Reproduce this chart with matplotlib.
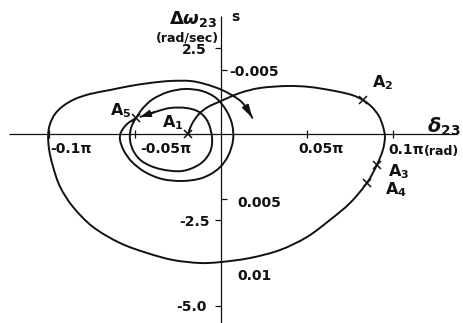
import numpy as np
import matplotlib
matplotlib.use("Agg")
import matplotlib.pyplot as plt
from matplotlib.path import Path
from matplotlib.patches import PathPatch

plt.rcParams["font.family"] = ["DejaVu Sans"]
plt.rcParams["mathtext.fontset"] = "dejavusans"

# Swing trajectory: rotor angle (in units of pi rad) vs speed deviation (rad/sec)
traj_delta = [-0.0192, -0.0169, -0.0128, -0.0076, 0.0000, 0.0110, 0.0227, 0.0384,
              0.0517, 0.0662, 0.0761, 0.0825, 0.0877, 0.0918, 0.0941, 0.0953,
              0.0941, 0.0906, 0.0848, 0.0750, 0.0633, 0.0500, 0.0343, 0.0168,
              0.0000, -0.0122, -0.0279, -0.0430, -0.0587, -0.0744, -0.0860, -0.0935,
              -0.0976, -0.0999, -0.1005, -0.0994, -0.0965, -0.0918, -0.0849, -0.0761,
              -0.0645, -0.0529, -0.0413, -0.0296, -0.0180, -0.0093, 0.0006, 0.0099,
              0.0145]
traj_omega = [0.000, 0.291, 0.581, 0.785, 0.959, 1.192, 1.337, 1.395,
              1.366, 1.250, 1.134, 0.988, 0.785, 0.523, 0.233, -0.087,
              -0.465, -0.901, -1.424, -2.006, -2.500, -2.994, -3.372, -3.605,
              -3.721, -3.750, -3.663, -3.459, -3.169, -2.703, -2.122, -1.541,
              -0.959, -0.465, -0.029, 0.291, 0.581, 0.814, 1.017, 1.163,
              1.279, 1.395, 1.483, 1.541, 1.541, 1.453, 1.279, 1.017,
              0.785]
traj_end = (0.0182, 0.470)

# Subsequent oscillation cycles ending at A5
cycle_delta = [-0.0494, -0.0546, -0.0581, -0.0587, -0.0564, -0.0517, -0.0442, -0.0343,
               -0.0227, -0.0110, -0.0017, 0.0041, 0.0070, 0.0064, 0.0029, -0.0029,
               -0.0110, -0.0209, -0.0308, -0.0395, -0.0453, -0.0494, -0.0523, -0.0529,
               -0.0506, -0.0453, -0.0355, -0.0227, -0.0122, -0.0064, -0.0052, -0.0076,
               -0.0128, -0.0203, -0.0296, -0.0384]
cycle_omega = [0.465, 0.291, 0.058, -0.174, -0.494, -0.814, -1.105, -1.308,
               -1.366, -1.279, -1.017, -0.640, -0.174, 0.291, 0.698, 1.047,
               1.250, 1.308, 1.221, 1.017, 0.756, 0.465, 0.174, -0.174,
               -0.523, -0.814, -1.017, -1.076, -0.872, -0.523, -0.116, 0.349,
               0.640, 0.756, 0.756, 0.640]
cycle_end = (-0.0468, 0.500)

# Marked states
a_labels = ["1", "2", "3", "4", "5"]
a_delta = [-0.0192, 0.0825, 0.0906, 0.0848, -0.0494]
a_omega = [0.000, 0.988, -0.901, -1.424, 0.465]

# Axis scales
delta_ticks = [-0.1, -0.05, 0.05, 0.1]
delta_tick_labels = ["-0.1\u03c0", "-0.05\u03c0", "0.05\u03c0", "0.1\u03c0"]
omega_ticks = [2.5, -2.5, -5.0]
omega_tick_labels = ["2.5", "-2.5", "-5.0"]
time_ticks = [1.86, -1.89]
time_labels = ["-0.005", "0.005", "0.01"]
time_label_omega = [1.80, -2.01, -4.13]


def smooth_path(xs, ys):
    pts = np.column_stack([xs, ys])
    ext = np.vstack([pts[0], pts, pts[-1]])
    verts = [pts[0]]
    codes = [Path.MOVETO]
    for i in range(len(pts) - 1):
        p0, p1, p2, p3 = ext[i], ext[i + 1], ext[i + 2], ext[i + 3]
        verts += [p1 + (p2 - p0) / 6.0, p2 - (p3 - p1) / 6.0, p2]
        codes += [Path.CURVE4] * 3
    return Path(verts, codes)


fig = plt.figure(figsize=(4.63, 3.23), dpi=100)
ax = fig.add_axes([0, 0, 1, 1])
ax.set_xlim(-0.12849, 0.14070)
ax.set_ylim(-5.494, 3.895)
ax.axis("off")

ink = "#111111"
axis_lw = 0.9
curve_lw = 1.4
txt = dict(color=ink, fontweight="semibold")

# Coordinate axes
ax.plot([-0.1232, 0.1371], [0, 0], color=ink, lw=axis_lw, solid_capstyle="butt")
ax.plot([0, 0], [-5.6, 3.42], color=ink, lw=axis_lw, solid_capstyle="butt")
ax.plot(delta_ticks, [0] * len(delta_ticks), ls="none", marker="|", ms=6,
        mew=axis_lw, color=ink)
ax.plot([0] * len(omega_ticks), omega_ticks, ls="none", marker=0, ms=4.5,
        mew=axis_lw, color=ink)
ax.plot([0] * len(time_ticks), time_ticks, ls="none", marker=1, ms=4.5,
        mew=axis_lw, color=ink)

# Trajectories
x_main = traj_delta + [traj_end[0]]
y_main = traj_omega + [traj_end[1]]
ax.add_patch(PathPatch(smooth_path(x_main, y_main), fill=False, ec=ink,
                       lw=curve_lw, capstyle="round", joinstyle="round"))
ax.annotate("", xy=traj_end, xytext=(traj_delta[-1], traj_omega[-1]),
            arrowprops=dict(arrowstyle="-|>,head_length=0.6,head_width=0.17",
                            color=ink, lw=curve_lw, shrinkA=0, shrinkB=0,
                            mutation_scale=12))

x_cyc = cycle_delta + [cycle_end[0]]
y_cyc = cycle_omega + [cycle_end[1]]
ax.add_patch(PathPatch(smooth_path(x_cyc, y_cyc), fill=False, ec=ink,
                       lw=curve_lw, capstyle="round", joinstyle="round"))
ax.annotate("", xy=cycle_end, xytext=(cycle_delta[-1], cycle_omega[-1]),
            arrowprops=dict(arrowstyle="-|>,head_length=0.5,head_width=0.18",
                            color=ink, lw=curve_lw, shrinkA=0, shrinkB=0,
                            mutation_scale=11))

# Marked points
ax.plot(a_delta, a_omega, ls="none", marker="x", ms=5.5, mew=1.1, color=ink)
a_text_pos = [(-0.0343, 0.32), (0.0877, 1.48), (0.0970, -1.10),
              (0.0953, -1.63), (-0.0645, 0.67)]
for lab, (tx, ty) in zip(a_labels, a_text_pos):
    ax.text(tx, ty, r"$\mathbf{A}_{\mathbf{%s}}$" % lab, fontsize=11.5,
            ha="left", va="center", color=ink)

# Tick labels along the angle axis
delta_label_x = [-0.0994, -0.0471, 0.0447]
for lab, tx in zip(delta_tick_labels[:3], delta_label_x):
    ax.text(tx, -0.44, lab, fontsize=10, ha="left", va="center", **txt)
ax.text(0.0976, -0.46, delta_tick_labels[3], fontsize=10, ha="left",
        va="center", **txt)
ax.text(0.1180, -0.50, "(rad)", fontsize=9, ha="left", va="center", **txt)

# Tick labels along the speed axis
omega_label_pos = [(-0.0081, 2.44), (-0.0064, -2.56), (-0.0081, -5.03)]
for lab, (tx, ty) in zip(omega_tick_labels, omega_label_pos):
    ax.text(tx, ty, lab, fontsize=10, ha="right", va="center", **txt)

# Time marks along the speed axis
time_label_x = [0.0046, 0.0093, 0.0093]
for lab, tx, ty in zip(time_labels, time_label_x, time_label_omega):
    ax.text(tx, ty, lab, fontsize=10, ha="left", va="center", **txt)
ax.text(0.0081, 3.40, "s", fontsize=10, ha="center", va="center", **txt)

# Axis titles
ax.text(-0.0163, 3.33, r"$\boldsymbol{\Delta\omega}_{\mathbf{23}}$",
        fontsize=13, ha="center", va="center", color=ink)
ax.text(-0.0195, 2.79, "(rad/sec)", fontsize=9, ha="center", va="center",
        **txt)
ax.text(0.1197, 0.22, r"$\boldsymbol{\delta}_{\mathbf{23}}$", fontsize=14,
        ha="left", va="center", color=ink)

fig.savefig("out.png", dpi=100, facecolor="white")
